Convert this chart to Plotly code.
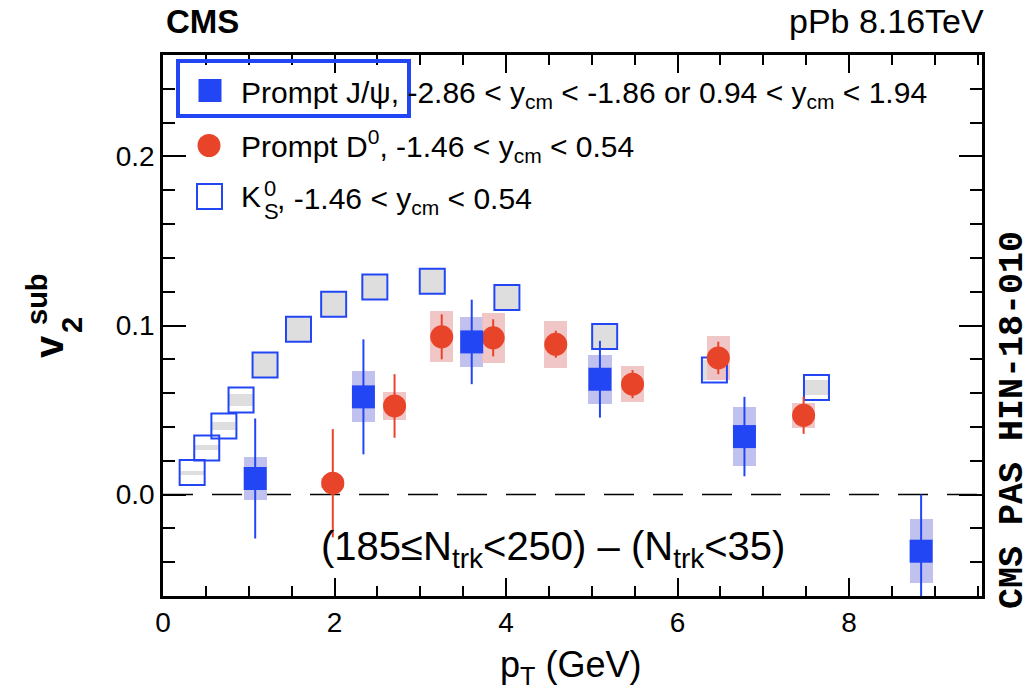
import plotly.graph_objects as go

# ---------------- data ----------------
ks_pt = [0.34, 0.51, 0.71, 0.91, 1.19, 1.58, 1.99, 2.47, 3.14, 4.01, 5.15, 6.43, 7.62]
ks_v2 = [0.0130, 0.0276, 0.0406, 0.0560, 0.0767, 0.0978, 0.1126, 0.1228, 0.1262, 0.1165, 0.0935, 0.0737, 0.0633]
ks_sys = [0.0012, 0.0015, 0.0025, 0.0035, 0.0070, 0.0070, 0.0070, 0.0070, 0.0070, 0.0070, 0.0070, 0.0060, 0.0047]

jpsi_pt = [1.075, 2.337, 3.60, 5.095, 6.78, 8.84]
jpsi_v2 = [0.0095, 0.0578, 0.0903, 0.0682, 0.0343, -0.0335]
jpsi_stat = [0.0355, 0.0340, 0.0250, 0.0227, 0.0235, 0.0335]
jpsi_sys = [0.0130, 0.0150, 0.0148, 0.0145, 0.0175, 0.0190]

d0_pt = [1.98, 2.70, 3.25, 3.85, 4.58, 5.475, 6.475, 7.47]
d0_v2 = [0.0067, 0.0524, 0.0933, 0.0927, 0.0889, 0.0653, 0.0808, 0.0469]
d0_stat = [0.0320, 0.0188, 0.0133, 0.0110, 0.0080, 0.0083, 0.0096, 0.0110]
d0_sys = [0.0030, 0.0085, 0.0150, 0.0148, 0.0140, 0.0105, 0.0128, 0.0074]

x_ticks = [0, 2, 4, 6, 8]
y_ticks = [0.0, 0.1, 0.2]
y_ticktext = ["0.0", "0.1", "0.2"]

# ---------------- styles ----------------
BLUE = "rgb(35,70,245)"
RED = "rgb(232,68,42)"
BLUE_SYS = "rgb(192,193,238)"
RED_SYS = "rgb(240,192,192)"
GRAY_SYS = "rgb(222,222,222)"
FONT = "Liberation Sans"

W, H = 1036, 696
L, R, T, B = 163, 982, 55, 596


def pxx(x):
    return (x - L) / (R - L)


def pxy(y):
    return (B - y) / (B - T)


fig = go.Figure()

# systematic boxes
fig.add_trace(go.Bar(x=ks_pt, y=[2 * s for s in ks_sys],
                     base=[v - s for v, s in zip(ks_v2, ks_sys)],
                     width=0.27, marker=dict(color=GRAY_SYS, line=dict(width=0)),
                     hoverinfo="skip"))
fig.add_trace(go.Bar(x=jpsi_pt, y=[2 * s for s in jpsi_sys],
                     base=[v - s for v, s in zip(jpsi_v2, jpsi_sys)],
                     width=0.27, marker=dict(color=BLUE_SYS, line=dict(width=0)),
                     hoverinfo="skip"))
fig.add_trace(go.Bar(x=d0_pt, y=[2 * s for s in d0_sys],
                     base=[v - s for v, s in zip(d0_v2, d0_sys)],
                     width=0.27, marker=dict(color=RED_SYS, line=dict(width=0)),
                     opacity=0.9, hoverinfo="skip"))

# K0S open squares
fig.add_trace(go.Scatter(x=ks_pt, y=ks_v2, mode="markers",
                         marker=dict(symbol="square-open", size=25, color=BLUE,
                                     line=dict(width=2, color=BLUE))))
# D0
fig.add_trace(go.Scatter(x=d0_pt, y=d0_v2, mode="markers",
                         error_y=dict(type="data", array=d0_stat, width=0,
                                      thickness=2, color=RED),
                         marker=dict(symbol="circle", size=23, color=RED,
                                     line=dict(width=0))))
# J/psi
fig.add_trace(go.Scatter(x=jpsi_pt, y=jpsi_v2, mode="markers",
                         error_y=dict(type="data", array=jpsi_stat, width=0,
                                      thickness=2, color=BLUE),
                         marker=dict(symbol="square", size=23, color=BLUE,
                                     line=dict(width=0))))

# legend markers on an overlay axis in paper units
leg_y = [90.5, 145.5, 196.5]
fig.add_trace(go.Scatter(x=[pxx(210)], y=[pxy(leg_y[0])], xaxis="x2", yaxis="y2",
                         mode="markers", marker=dict(symbol="square", size=23, color=BLUE)))
fig.add_trace(go.Scatter(x=[pxx(209)], y=[pxy(leg_y[1])], xaxis="x2", yaxis="y2",
                         mode="markers", marker=dict(symbol="circle", size=23, color=RED)))
fig.add_trace(go.Scatter(x=[pxx(209.5)], y=[pxy(leg_y[2])], xaxis="x2", yaxis="y2",
                         mode="markers",
                         marker=dict(symbol="square-open", size=25, color=BLUE,
                                     line=dict(width=2, color=BLUE))))

axis_common = dict(showline=True, linewidth=2.5, linecolor="black", mirror="allticks",
                   ticks="inside", tickwidth=2, tickcolor="black", showgrid=False,
                   zeroline=False, tickfont=dict(family=FONT, size=28, color="black"))

fig.update_layout(
    width=W, height=H,
    margin=dict(l=L, r=W - R, t=T, b=H - B),
    plot_bgcolor="white", paper_bgcolor="white",
    showlegend=False, barmode="overlay", bargap=0,
    font=dict(family=FONT, size=28, color="black"),
    xaxis=dict(range=[0, 9.55], tickvals=x_ticks, ticklen=18,
               minor=dict(tick0=0, dtick=0.5, ticklen=10, tickwidth=2,
                          ticks="inside", tickcolor="black"),
               **axis_common),
    yaxis=dict(range=[-0.06, 0.26], tickvals=y_ticks, ticktext=y_ticktext, ticklen=23,
               minor=dict(tick0=0, dtick=0.02, ticklen=12, tickwidth=2,
                          ticks="inside", tickcolor="black"),
               **axis_common),
    xaxis2=dict(overlaying="x", range=[0, 1], visible=False),
    yaxis2=dict(overlaying="y", range=[0, 1], visible=False),
)

# dashed zero line
fig.add_shape(type="line", xref="paper", yref="y", x0=0, x1=1, y0=0, y1=0,
              line=dict(color="black", width=1.5, dash="30px,19px"), layer="below")

# legend highlight box
fig.add_shape(type="rect", xref="paper", yref="paper",
              x0=pxx(178), x1=pxx(409), y0=pxy(116), y1=pxy(61),
              line=dict(color=BLUE, width=4))

ann = []


def text(x, y, s, size=30, xanchor="left", yanchor="middle", angle=0, family=FONT):
    ann.append(dict(x=pxx(x), y=pxy(y), xref="paper", yref="paper", text=s,
                    showarrow=False, xanchor=xanchor, yanchor=yanchor, textangle=angle,
                    font=dict(family=family, size=size, color="black")))


text(239, leg_y[0] + 4, "Prompt J/ψ, -2.86 < y<sub>cm</sub> < -1.86 or 0.94 < y<sub>cm</sub> < 1.94")
text(239, leg_y[1], "Prompt D<sup>0</sup>, -1.46 < y<sub>cm</sub> < 0.54")
text(239, leg_y[2], "K")
text(262, 188, "0", size=22)
text(262, 211, "S", size=22)
text(275, leg_y[2] + 4, ", -1.46 < y<sub>cm</sub> < 0.54")

text(553, 549, "(185≤N<sub>trk</sub><250) – (N<sub>trk</sub><35)", size=40, xanchor="center")

text(164, 22, "<b>CMS</b>", size=33)
text(986, 21, "pPb 8.16TeV", size=34, xanchor="right")
text(1013, 420, "<b>CMS PAS HIN-18-010</b>", size=35, xanchor="center", angle=-90,
     family="Liberation Mono")

text(570, 667, "p<sub>T</sub> (GeV)", size=36, xanchor="center")

# y-axis title v_2^sub
text(49, 347, "<b>v</b>", size=40, xanchor="center", angle=-90)
text(37, 299, "<b>sub</b>", size=29, xanchor="center", angle=-90)
text(72, 325, "<b>2</b>", size=29, xanchor="center", angle=-90)

fig.update_layout(annotations=ann)
fig.write_html("out.html")
